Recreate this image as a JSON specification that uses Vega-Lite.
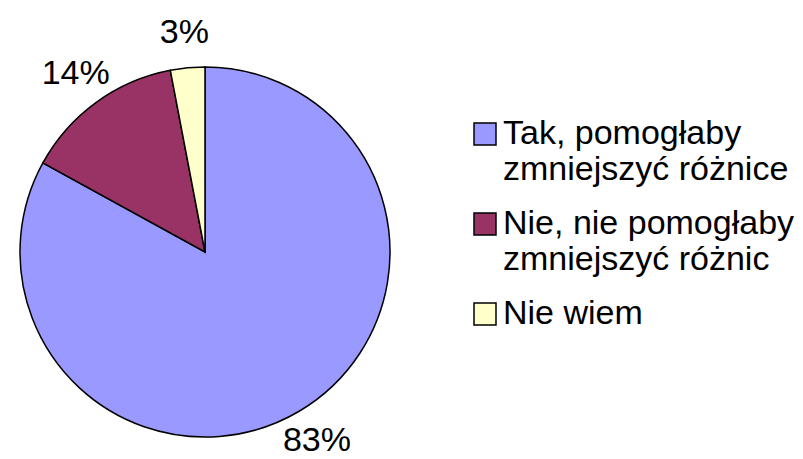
{
  "$schema": "https://vega.github.io/schema/vega-lite/v6.json",
  "autosize": {"type": "none"},
  "width": 410,
  "height": 370,
  "padding": {"left": 0, "top": 67, "right": 393, "bottom": 22},
  "background": "white",
  "config": {"view": {"stroke": null}, "font": "Liberation Sans"},
  "data": {"values": [
    {"kategoria": "Tak, pomogłaby\nzmniejszyć różnice", "udzial": 0.83, "kolejnosc": 1},
    {"kategoria": "Nie, nie pomogłaby\nzmniejszyć różnic", "udzial": 0.14, "kolejnosc": 2},
    {"kategoria": "Nie wiem", "udzial": 0.03, "kolejnosc": 3}
  ]},
  "encoding": {
    "theta": {"field": "udzial", "type": "quantitative", "stack": true},
    "order": {"field": "kolejnosc", "type": "quantitative"}
  },
  "layer": [
    {
      "mark": {"type": "arc", "outerRadius": 185, "stroke": "black", "strokeWidth": 1.5},
      "encoding": {
        "color": {
          "field": "kategoria", "type": "nominal",
          "sort": ["Tak, pomogłaby\nzmniejszyć różnice", "Nie, nie pomogłaby\nzmniejszyć różnic", "Nie wiem"],
          "scale": {"range": ["#9999FF", "#993366", "#FFFFCC"]},
          "legend": {
            "title": null,
            "orient": "none",
            "legendX": 468,
            "legendY": 50,
            "padding": 0,
            "symbolType": "square",
            "symbolSize": 484,
            "symbolStrokeColor": "black",
            "symbolStrokeWidth": 1.5,
            "symbolOpacity": 1,
            "labelFont": "Liberation Sans",
            "labelFontSize": 34,
            "labelColor": "black",
            "labelLimit": 400,
            "labelOffset": 1,
            "rowPadding": 20,
            "labelExpr": "split(datum.label, '\\n')"
          }
        }
      }
    },
    {
      "mark": {"type": "text", "radius": 220, "fontSize": 34, "font": "Liberation Sans", "color": "black"},
      "encoding": {
        "text": {"field": "udzial", "type": "quantitative", "format": ".0%"},
        "detail": {"field": "kategoria"}
      }
    }
  ]
}
